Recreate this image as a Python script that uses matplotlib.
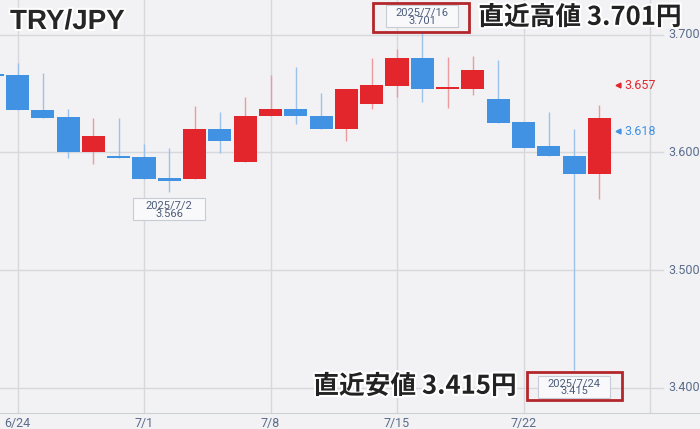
import numpy as np
import pandas as pd
import matplotlib
matplotlib.use("Agg")
import matplotlib.pyplot as plt
import matplotlib.patheffects as pe
import matplotlib.transforms as mtransforms
from matplotlib.patches import Rectangle


# daily candles, TRY/JPY
dates = ["6/23", "6/24", "6/25", "6/26", "6/27", "6/30",
         "7/1", "7/2", "7/3", "7/4", "7/7", "7/8", "7/9", "7/10", "7/11",
         "7/14", "7/15", "7/16", "7/17", "7/18",
         "7/21", "7/22", "7/23", "7/24", "7/25"]
opens = [3.666, 3.666, 3.636, 3.630, 3.600, 3.597,
         3.596, 3.578, 3.577, 3.620, 3.592, 3.631, 3.637, 3.631, 3.620,
         3.641, 3.656, 3.680, 3.654, 3.654,
         3.645, 3.626, 3.605, 3.597, 3.582]
highs = [3.666, 3.676, 3.667, 3.637, 3.629, 3.629,
         3.607, 3.604, 3.639, 3.634, 3.647, 3.666, 3.672, 3.650, 3.654,
         3.680, 3.688, 3.701, 3.681, 3.682,
         3.678, 3.626, 3.634, 3.620, 3.640]
lows = [3.665, 3.636, 3.629, 3.595, 3.590, 3.595,
        3.577, 3.566, 3.577, 3.599, 3.592, 3.631, 3.624, 3.620, 3.610,
        3.637, 3.647, 3.643, 3.638, 3.649,
        3.625, 3.604, 3.597, 3.415, 3.560]
closes = [3.665, 3.636, 3.629, 3.600, 3.614, 3.595,
          3.577, 3.576, 3.620, 3.610, 3.631, 3.637, 3.631, 3.620, 3.654,
          3.657, 3.680, 3.654, 3.655, 3.670,
          3.625, 3.604, 3.597, 3.582, 3.629]

tick_dates = ["6/24", "7/1", "7/8", "7/15", "7/22"]
grid_dates = tick_dates + ["7/29"]
price_ticks = [3.400, 3.500, 3.600, 3.700]
marker_values = [3.657, 3.618]
box_dates = ["7/2", "7/16", "7/24"]

UP = "#e3262c"
DOWN = "#4192e3"
UP_WICK = "#eb9a9d"
DOWN_WICK = "#9cc1eb"
LABEL = "#5b6d8b"
BG = "#f2f2f4"
GRID = "#d6d8de"
FRAME = "#b3262c"

# trading-day axis (weekends skipped)
days = pd.bdate_range("2025-06-23", "2025-07-29")
day_keys = [f"{d.month}/{d.day}" for d in days]
pos = {k: i for i, k in enumerate(day_keys)}

x = np.array([pos[d] for d in dates])
o = np.array(opens)
h = np.array(highs)
l = np.array(lows)
c = np.array(closes)
up = c >= o

fig = plt.figure(figsize=(7.0, 4.29), dpi=100, facecolor=BG)
ax = fig.add_axes([0, 16 / 429, 1, 413 / 429])
ax.set_facecolor(BG)

# grid
for d in grid_dates:
    ax.axvline(pos[d], color=GRID, lw=1, zorder=0)
for p in price_ticks:
    ax.axhline(p, xmin=0, xmax=663 / 700, color=GRID, lw=1, zorder=0)

# candles
ax.vlines(x, l, h, colors=np.where(up, UP_WICK, DOWN_WICK), lw=1, zorder=1)
body_lo = np.minimum(o, c)
body_h = np.maximum(np.abs(c - o), 0.0015)
ax.bar(x, body_h, bottom=body_lo, width=0.91,
       color=np.where(up, UP, DOWN), edgecolor="none", zorder=2)

ax.set_xlim(pos["6/24"] - 0.692, pos["6/24"] + 26.976)
ax.set_ylim(3.3787, 3.7293)

ax.set_xticks([pos[d] for d in tick_dates])
ax.set_xticklabels(tick_dates)
ax.tick_params(axis="x", length=0, pad=3, labelsize=9, labelcolor=LABEL)
for t in ax.get_xticklabels():
    t.set_fontfamily("Roboto")
ax.set_yticks([])
for s in ["top", "left", "right"]:
    ax.spines[s].set_visible(False)
ax.spines["bottom"].set_color("#cdd0d6")

# right-hand price labels
ytr = ax.get_yaxis_transform()
for p in price_ticks:
    ax.text(668 / 700, p, f"{p:.3f}", transform=ytr, ha="left", va="center",
            fontsize=9, color=LABEL, family="Roboto")

for v, col in zip(marker_values, [UP, DOWN]):
    ax.plot([618 / 700], [v], marker="<", ms=3.5, color=col, transform=ytr,
            clip_on=False, zorder=4)
    ax.text(624 / 700, v, f"{v:.3f}", transform=ytr, ha="left", va="center",
            fontsize=9, color=col, family="Roboto")


def px_rect(xd, yd, left, bottom, w, hgt, **kw):
    # rectangle sized in pixels, anchored on a data point
    trans = mtransforms.Affine2D() + mtransforms.ScaledTranslation(xd, yd, ax.transData)
    ax.add_patch(Rectangle((left, bottom), w, hgt, transform=trans,
                           clip_on=False, **kw))


hi_i = int(np.argmax(h))
lo_i = int(np.argmin(l))

for d in box_dates:
    i = dates.index(d)
    if i == hi_i:
        val, sign = h[i], 1
    else:
        val, sign = l[i], -1
    px_rect(x[i], val, -36, sign * 17 - 11, 72, 22,
            facecolor="#f9f9fb", edgecolor="#c8ccd4", lw=0.8, zorder=5)
    ax.annotate(f"2025/{d}\n{val:.3f}", xy=(x[i], val),
                xytext=(0, sign * 17), textcoords="offset pixels",
                ha="center", va="center", fontsize=8, color="#4b5c7a",
                family="Roboto", linespacing=0.8, zorder=6)

# red highlight frames
px_rect(x[hi_i], h[hi_i], -49, 1, 96, 29, facecolor="none",
        edgecolor=FRAME, lw=2, zorder=7)
px_rect(x[lo_i], l[lo_i], -47, -30, 95, 28, facecolor="none",
        edgecolor=FRAME, lw=2, zorder=7)

halo = [pe.withStroke(linewidth=3, foreground="white")]
jp = ["Noto Sans CJK JP", "DejaVu Sans"]
ax.annotate(f"直近高値 {h[hi_i]:.3f}円", xy=(x[hi_i], h[hi_i]),
            xytext=(56, 16), textcoords="offset pixels", ha="left", va="center",
            fontsize=18.5, fontweight="bold", color="#222222", family=jp,
            path_effects=halo, zorder=8, annotation_clip=False)
ax.annotate(f"直近安値 {l[lo_i]:.3f}円", xy=(x[lo_i], l[lo_i]),
            xytext=(-57, -16), textcoords="offset pixels", ha="right", va="center",
            fontsize=18.5, fontweight="bold", color="#222222", family=jp,
            path_effects=halo, zorder=8, annotation_clip=False)

ax.text(10 / 700, 1 - 22 / 413, "TRY/JPY", transform=ax.transAxes,
        ha="left", va="center", fontsize=20, fontweight="bold",
        color="#262626", family="Liberation Sans", path_effects=halo, zorder=8)

fig.savefig("out.png", dpi=100, facecolor=BG)
